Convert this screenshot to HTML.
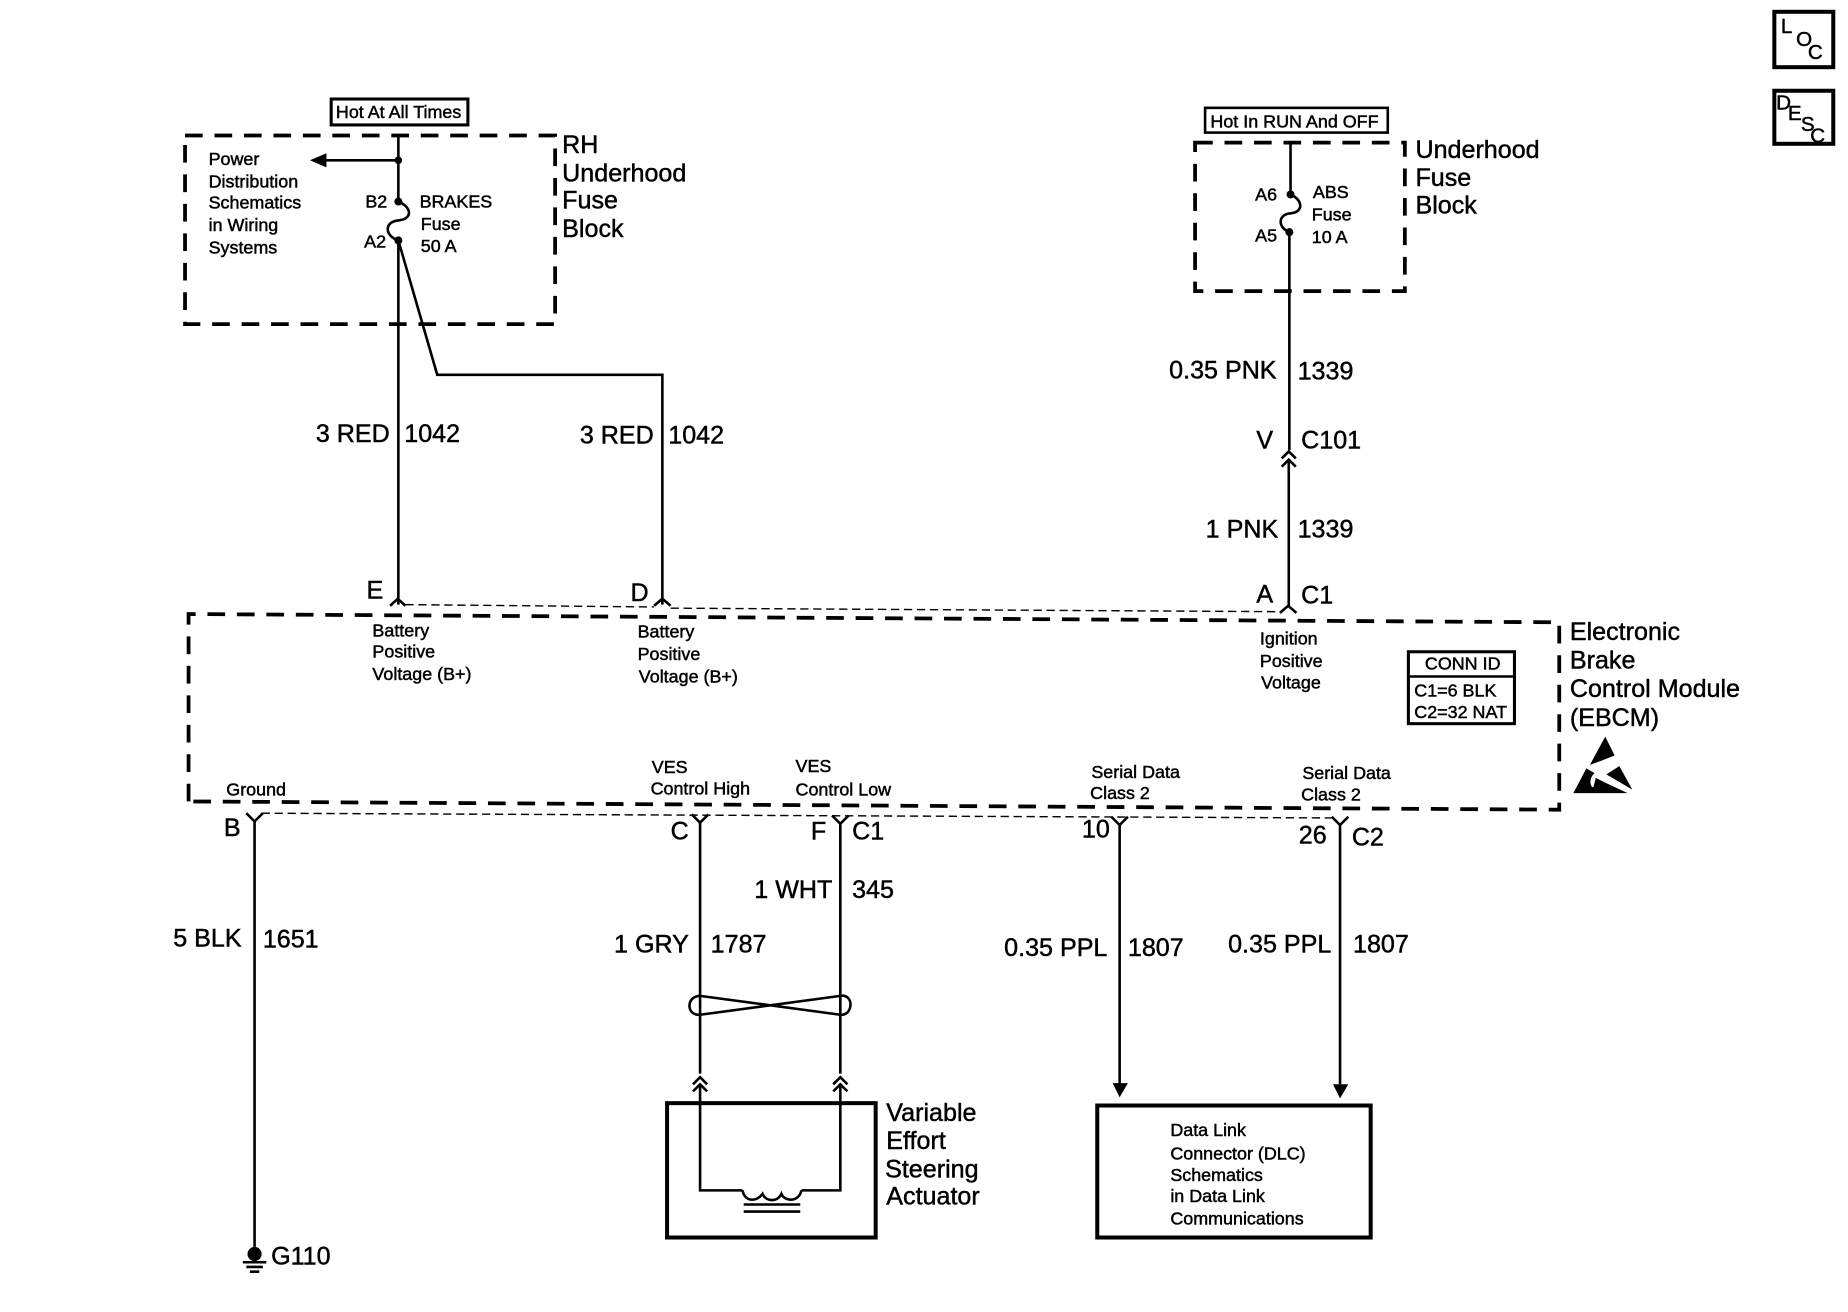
<!DOCTYPE html>
<html><head><meta charset="utf-8"><style>
html,body{margin:0;padding:0;background:#fff}
svg{display:block}
text{font-family:"Liberation Sans",sans-serif;fill:#000;stroke:#000;stroke-width:.4}
.s{font-size:15.2px}.l{font-size:21.3px}.c{font-size:17.5px}
.d{fill:none;stroke:#000;stroke-width:3.2;stroke-dasharray:15 10}
.w{fill:none;stroke:#000;stroke-width:2.2}
.t{fill:none;stroke:#000;stroke-width:1.2;stroke-dasharray:7 4}
.b{fill:none;stroke:#000;stroke-width:3.4}
</style></head><body>
<svg width="1848" height="1312" viewBox="0 0 1568 1113.2" xmlns="http://www.w3.org/2000/svg">
<rect x="0" y="0" width="1568" height="1114" fill="#fff"/>
<!-- LOC / DESC -->
<rect x="1505.5" y="10" width="50" height="47" class="b"/>
<text class="c" x="1511" y="28">L</text><text class="c" x="1524" y="39">O</text><text class="c" x="1534" y="50">C</text>
<rect x="1505.5" y="77" width="50" height="45" class="b"/>
<text class="c" x="1507" y="93">D</text><text class="c" x="1517" y="102">E</text><text class="c" x="1528" y="111">S</text><text class="c" x="1536" y="121">C</text>
<!-- Hot boxes -->
<rect x="281" y="84" width="116" height="22" class="b" style="stroke-width:2.6"/>
<text class="s" x="285" y="100">Hot At All Times</text>
<rect x="1022.5" y="91.5" width="155" height="21" class="w"/>
<text class="s" x="1027" y="108">Hot In RUN And OFF</text>
<!-- Fuse blocks -->
<rect x="157" y="115" width="314" height="160" class="d"/>
<rect x="1014" y="121" width="178" height="126" class="d"/>
<text class="l" x="477" y="130">RH</text><text class="l" x="477" y="154">Underhood</text><text class="l" x="477" y="177">Fuse</text><text class="l" x="477" y="201">Block</text>
<text class="l" x="1201" y="134">Underhood</text><text class="l" x="1201" y="158">Fuse</text><text class="l" x="1201" y="181">Block</text>
<text class="s" x="177" y="140">Power</text><text class="s" x="177" y="159">Distribution</text><text class="s" x="177" y="177">Schematics</text><text class="s" x="177" y="196">in Wiring</text><text class="s" x="177" y="215">Systems</text>
<text class="s" x="310" y="176">B2</text><text class="s" x="309" y="210">A2</text>
<text class="s" x="356" y="176">BRAKES</text><text class="s" x="357" y="195">Fuse</text><text class="s" x="357" y="214">50 A</text>
<text class="s" x="1065" y="170">A6</text><text class="s" x="1065" y="205">A5</text>
<text class="s" x="1114" y="168">ABS</text><text class="s" x="1113" y="187">Fuse</text><text class="s" x="1113" y="206">10 A</text>
<!-- left wires -->
<path class="w" d="M338 114V171M338 136H275M338 171C350 176,350 186,338 187C326 188,326 200,338 204V513M338 204L371 318H562V513"/>
<path d="M263 136L277 130V142Z"/>
<circle cx="338" cy="136" r="3.2"/><circle cx="338" cy="171" r="3.4"/><circle cx="338" cy="204" r="3.4"/>
<!-- right wires -->
<path class="w" d="M1095 121V165C1106 170,1106 180,1095 181C1084 182,1084 193,1094 197V382M1093.5 390V515"/>
<circle cx="1095" cy="165" r="3.4"/><circle cx="1094" cy="197" r="3.4"/>
<path class="w" d="M1087.5 389L1093.5 383L1099.5 389M1087.5 396L1093.5 390L1099.5 396"/>
<!-- labels -->
<text class="l" x="268" y="375">3 RED</text><text class="l" x="343" y="375">1042</text>
<text class="l" x="492" y="376.5">3 RED</text><text class="l" x="567" y="376.5">1042</text>
<text class="l" x="992" y="321">0.35 PNK</text><text class="l" x="1101" y="322">1339</text>
<text class="l" x="1066" y="380.5">V</text><text class="l" x="1104" y="380.5">C101</text>
<text class="l" x="1023" y="456">1 PNK</text><text class="l" x="1101" y="456">1339</text>
<text class="l" x="311" y="508">E</text><text class="l" x="535" y="510">D</text>
<text class="l" x="1066" y="511">A</text><text class="l" x="1104" y="512">C1</text>
<!-- top carets and thin line -->
<path class="w" d="M331 514L337.5 508L344 514M555 514L562 508L569 514M1086 520L1093 514L1100 520"/>
<path class="t" d="M344 513L555 515M569 516L1086 519"/>
<!-- EBCM -->
<path class="d" d="M160 680V521L1323 528V687L160 680"/>
<text class="s" x="316" y="540">Battery</text><text class="s" x="316" y="558">Positive</text><text class="s" x="316" y="577">Voltage (B+)</text>
<text class="s" x="541" y="541">Battery</text><text class="s" x="541" y="560">Positive</text><text class="s" x="542" y="579">Voltage (B+)</text>
<text class="s" x="1069" y="547">Ignition</text><text class="s" x="1069" y="566">Positive</text><text class="s" x="1070" y="584">Voltage</text>
<rect x="1195" y="553" width="90" height="61" class="w" style="stroke-width:2.6"/>
<path class="w" d="M1195 574H1285"/>
<text class="s" x="1209" y="568">CONN ID</text><text class="s" x="1200" y="591">C1=6 BLK</text><text class="s" x="1200" y="609">C2=32 NAT</text>
<text class="l" x="1332" y="543">Electronic</text><text class="l" x="1332" y="567">Brake</text><text class="l" x="1332" y="591.5">Control Module</text><text class="l" x="1332" y="616">(EBCM)</text>
<path d="M1362 625L1370 641L1360 645L1349 649Z"/>
<path d="M1346 652L1353 656C1348 660,1349 668,1352 668L1354 660L1362 664L1381 673H1335Z"/>
<path d="M1374 650L1363 657L1385 670Z"/>
<text class="s" x="192" y="675">Ground</text>
<text class="s" x="553" y="656">VES</text><text class="s" x="552" y="674">Control High</text>
<text class="s" x="675" y="655">VES</text><text class="s" x="675" y="675">Control Low</text>
<text class="s" x="926" y="660">Serial Data</text><text class="s" x="925" y="678">Class 2</text>
<text class="s" x="1105" y="661">Serial Data</text><text class="s" x="1104" y="679">Class 2</text>
<!-- bottom carets and thin line -->
<path class="t" d="M222 690L1130 694"/>
<path class="w" d="M209 690L216 697L223 690M587 691L594 698L601 691M706 692L713 699L720 692M943 693L950 700L957 693M1130 693L1137 700L1144 693"/>
<text class="l" x="190" y="709.5">B</text><text class="l" x="569" y="712.5">C</text><text class="l" x="688" y="712.5">F</text><text class="l" x="723" y="712.5">C1</text>
<text class="l" x="918" y="710.5">10</text><text class="l" x="1102" y="715.5">26</text><text class="l" x="1147" y="717.5">C2</text>
<!-- bottom wires -->
<path class="w" d="M216 697V1058"/>
<circle cx="216" cy="1064" r="6"/><path class="w" d="M206 1071H226M209 1075H223M212 1079H220"/>
<text class="l" x="230" y="1073">G110</text>
<path class="w" d="M594 698V911M713 699V911M594 920V1010H630M713 920V1010H680"/>
<path class="w" d="M594 845C582 845,582 862,594 861L713 845C725 843,724 862,713 861Z"/>
<path class="w" d="M588 920L594 914L600 920M588 926L594 920L600 926M707 920L713 914L719 920M707 926L713 920L719 926"/>
<path class="w" d="M630 1010C632 1020,642 1020,647 1013C650 1020,660 1020,663 1013C666 1020,678 1020,680 1010M631 1022H679M631 1028H679"/>
<rect x="566" y="936" width="177" height="114" class="b"/>
<text class="l" x="752" y="951">Variable</text><text class="l" x="752" y="975">Effort</text><text class="l" x="751" y="999">Steering</text><text class="l" x="752" y="1022">Actuator</text>
<text class="l" x="640" y="762">1 WHT</text><text class="l" x="723" y="762">345</text>
<text class="l" x="521" y="808">1 GRY</text><text class="l" x="603" y="808">1787</text>
<text class="l" x="147" y="803">5 BLK</text><text class="l" x="223" y="804">1651</text>
<text class="l" x="852" y="811">0.35 PPL</text><text class="l" x="957" y="811">1807</text>
<text class="l" x="1042" y="808">0.35 PPL</text><text class="l" x="1148" y="808">1807</text>
<path class="w" d="M950 700V920M1137 700V920"/>
<path d="M944 919H957L950 931ZM1131 920H1144L1137 932Z"/>
<rect x="931" y="938" width="232" height="112" class="b"/>
<text class="s" x="993" y="964">Data Link</text><text class="s" x="993" y="984">Connector (DLC)</text><text class="s" x="993" y="1002">Schematics</text><text class="s" x="993" y="1020">in Data Link</text><text class="s" x="993" y="1039">Communications</text>
</svg>
</body></html>
